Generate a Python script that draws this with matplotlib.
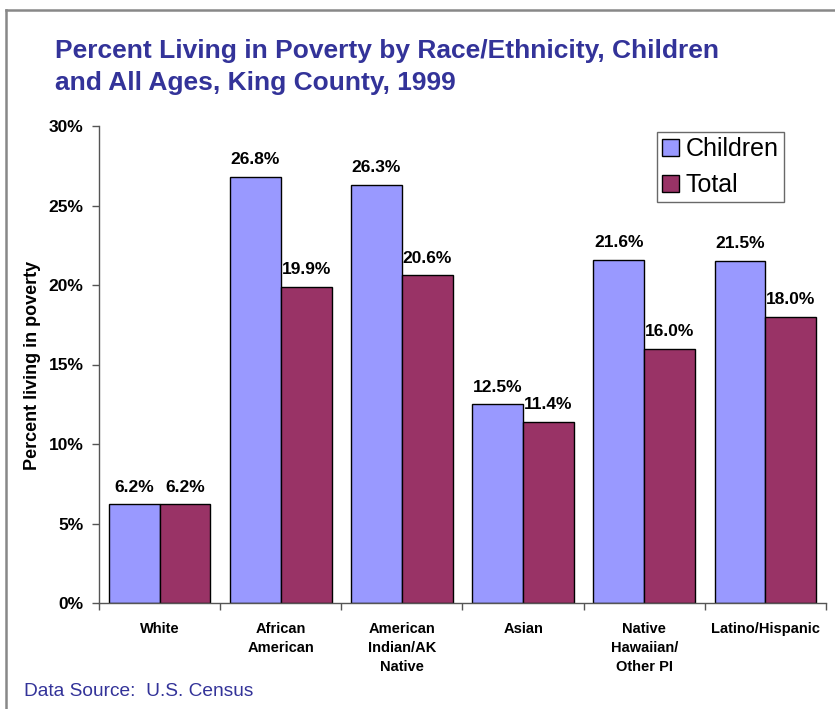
import matplotlib
matplotlib.use("Agg")
import matplotlib.pyplot as plt
from matplotlib.lines import Line2D
import numpy as np

categories = ["White", "African\nAmerican", "American\nIndian/AK\nNative", "Asian",
              "Native\nHawaiian/\nOther PI", "Latino/Hispanic"]
children = [6.2, 26.8, 26.3, 12.5, 21.6, 21.5]
total = [6.2, 19.9, 20.6, 11.4, 16.0, 18.0]
series_names = ["Children", "Total"]
yticks = [0, 5, 10, 15, 20, 25, 30]
title_lines = ["Percent Living in Poverty by Race/Ethnicity, Children",
               "and All Ages, King County, 1999"]

plt.rcParams['font.family'] = ['Liberation Sans', 'DejaVu Sans']

W, H = 835, 709
fig = plt.figure(figsize=(W / 100, H / 100), dpi=100)
ax = fig.add_axes([99 / W, 1 - 603 / H, (826 - 99) / W, (603 - 126) / H])

x = np.arange(len(categories))
w = 0.42
b1 = ax.bar(x - w / 2, children, w, color='#9999FF', edgecolor='black', linewidth=1.0,
            label=series_names[0], zorder=2)
b2 = ax.bar(x + w / 2, total, w, color='#993366', edgecolor='black', linewidth=1.0,
            label=series_names[1], zorder=2)

for bars, vals in ((b1, children), (b2, total)):
    for rect, v in zip(bars, vals):
        ax.annotate(f"{v:.1f}%", (rect.get_x() + rect.get_width() / 2, v),
                    xytext=(0, 7), textcoords='offset points', ha='center', va='bottom',
                    fontsize=12.5, fontweight='bold')

ax.set_xlim(-0.5, len(categories) - 0.5)
ax.set_ylim(0, 30)
ax.set_yticks(yticks)
ax.set_yticklabels([f"{t}%" for t in yticks], fontsize=12.5, fontweight='bold')
ax.tick_params(axis='y', direction='out', length=5, width=1, color='#555555', pad=6)

ax.set_xticks(x)
ax.set_xticklabels(categories, fontsize=10.5, fontweight='bold', linespacing=1.45)
ax.tick_params(axis='x', which='major', length=0, pad=14)
ax.set_xticks(np.arange(-0.5, len(categories), 1.0), minor=True)
ax.tick_params(axis='x', which='minor', direction='out', length=5, width=1, color='#555555')
for lbl in ax.get_xticklabels():
    lbl.set_verticalalignment('top')

for s in ('top', 'right'):
    ax.spines[s].set_visible(False)
for s in ('left', 'bottom'):
    ax.spines[s].set_color('#555555')
    ax.spines[s].set_linewidth(1.0)

fig.text(33 / W, 1 - 365 / H, "Percent living in poverty", rotation=90, ha='center',
         va='center', fontsize=13, fontweight='bold')

leg = ax.legend(loc='upper left', bbox_to_anchor=((657 - 99) / (826 - 99), (603 - 132) / (603 - 126)),
                fontsize=18, frameon=True, fancybox=False, edgecolor='#444444',
                handlelength=0.68, handleheight=0.68, handletextpad=0.26, borderpad=0.2,
                labelspacing=0.48, borderaxespad=0)
leg.get_frame().set_linewidth(1.0)

for i, line in enumerate(title_lines):
    fig.text(55 / W, 1 - (58 + 32 * i) / H, line, ha='left', va='baseline',
             fontsize=19, fontweight='bold', color='#333399')

fig.text(24 / W, 1 - 692 / H, "Data Source:  U.S. Census", ha='left', va='center',
         fontsize=13.8, color='#333399')

# Outer frame (top and left edges)
fig.add_artist(Line2D([6 / W, 6 / W], [0, 1 - 10 / H], transform=fig.transFigure,
                      color='#888888', linewidth=1.8))
fig.add_artist(Line2D([6 / W, 1], [1 - 10 / H, 1 - 10 / H], transform=fig.transFigure,
                      color='#888888', linewidth=1.8))

fig.savefig("out.png", dpi=100)
